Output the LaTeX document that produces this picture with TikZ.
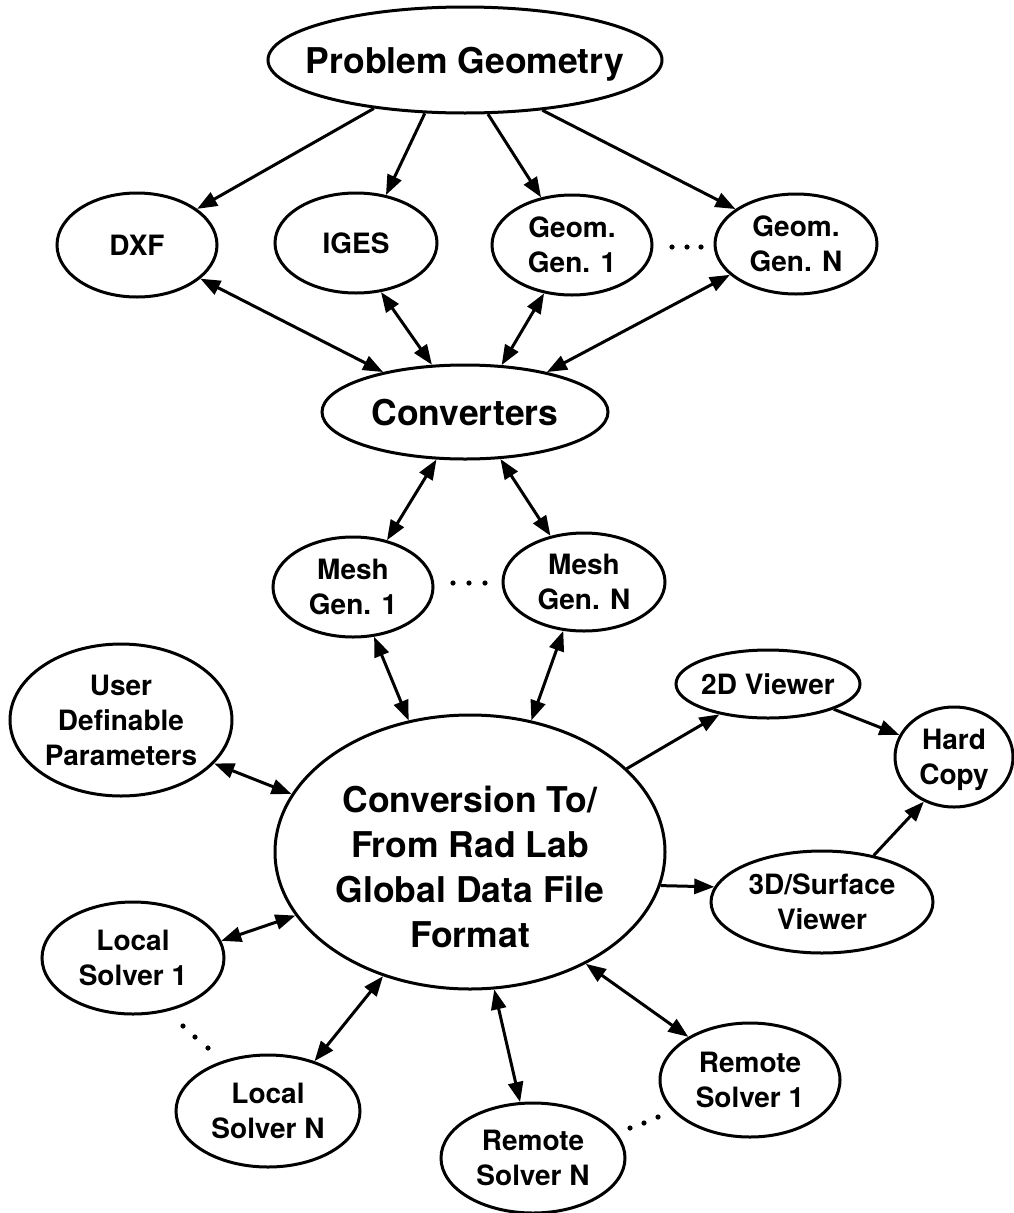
\documentclass[tikz,border=0pt]{standalone}
\usepackage{fontspec}
\setmainfont{TeX Gyre Heros}
\usetikzlibrary{shapes.geometric,arrows.meta}

\begin{document}
\begin{tikzpicture}[x=1pt,y=-1pt,
  oval/.style={ellipse,draw,line width=3pt,inner sep=-60pt,align=center,text depth=0pt,
    font=\bfseries\fontsize{28}{35}\selectfont},
  bigfont/.style={font=\bfseries\fontsize{35.5}{45}\selectfont},
  conn/.style={line width=3pt},
  tip/.tip={Triangle[length=20pt,width=15pt]},
  one/.style={conn,-tip},
  two/.style={conn,tip-tip},
  dot/.style={fill=black}
]
\useasboundingbox (0,0) rectangle (1014,1213);

% top level: geometry sources
\node[oval,bigfont,minimum width=394pt,minimum height=106pt] (pg) at (465,60) {Problem Geometry};
\node[oval,minimum width=160pt,minimum height=104pt] (dxf) at (137,245) {DXF};
\node[oval,minimum width=162pt,minimum height=100pt] (iges) at (356,243) {IGES};
\node[oval,minimum width=160pt,minimum height=100pt] (gg1) at (572,245) {Geom.\\Gen. 1};
\node[oval,minimum width=162pt,minimum height=100pt] (ggn) at (796,244) {Geom.\\Gen. N};
\node[oval,bigfont,minimum width=286pt,minimum height=94pt] (conv) at (465,412) {Converters};

% mesh generators
\node[oval,minimum width=160pt,minimum height=100pt] (mg1) at (353,587) {Mesh\\Gen. 1};
\node[oval,minimum width=162pt,minimum height=98pt] (mgn) at (584,582) {Mesh\\Gen. N};

% central data format
\node[oval,minimum width=390pt,minimum height=274pt] (main) at (470,852) {};
\node[bigfont,align=center,inner sep=0pt] (maintext) at (470,867)
  {Conversion To/\\From Rad Lab\\Global Data File\\Format};

% surrounding tools
\node[oval,minimum width=222pt,minimum height=152pt] (udp) at (121,720) {User\\Definable\\Parameters};
\node[oval,minimum width=184pt,minimum height=68pt] (v2d) at (768,684) {2D Viewer};
\node[oval,minimum width=118pt,minimum height=100pt] (hc) at (954,757) {Hard\\Copy};
\node[oval,minimum width=222pt,minimum height=102pt] (v3d) at (822,902) {3D/Surface\\Viewer};
\node[oval,minimum width=182pt,minimum height=112pt] (ls1) at (133,958) {Local\\Solver 1};
\node[oval,minimum width=184pt,minimum height=112pt] (lsn) at (268,1111) {Local\\Solver N};
\node[oval,minimum width=180pt,minimum height=114pt] (rs1) at (750,1080) {Remote\\Solver 1};
\node[oval,minimum width=184pt,minimum height=110pt] (rsn) at (533,1158) {Remote\\Solver N};

% geometry to formats
\draw[one] (pg.208.5) -- (dxf.31);
\draw[one] (pg.233.6) -- (iges.58.3);
\draw[one] (pg.293.7) -- (gg1.123.2);
\draw[one] (pg.327.6) -- (ggn.150.2);

% formats to converters
\draw[two] (dxf.332.3) -- (conv.154.3);
\draw[two] (iges.297.5) -- (conv.125.5);
\draw[two] (gg1.240.6) -- (conv.52.4);
\draw[two] (ggn.205.4) -- (conv.26.8);

% converters to mesh generators
\draw[two] (conv.239.2) -- (mg1.54);
\draw[two] (conv.307.3) -- (mgn.126.5);

% mesh generators to central format
\draw[two] (mg1.293.3) -- (main.115.9);
\draw[two] (mgn.247.2) -- (main.65.9);

% central format to the rest
\draw[two] (udp.335.1) -- (main.162.6);
\draw[one] (main.28.4) -- (v2d.212.2);
\draw[one] (v2d.339.4) -- (hc.158);
\draw[one] (v3d.42.7) -- (hc.236);
\draw[one] (main.350.7) -- (v3d.172.7);
\draw[two] (main.200.2) -- (ls1.11.7);
\draw[two] (main.235.1) -- (lsn.47.2);
\draw[two] (main.280.3) -- (rsn.103.6);
\draw[two] (main.316.8) -- (rs1.145.9);

% ellipsis dots
\foreach \p in {(672,247),(687,247),(701,247),
                (453,583),(469,583),(485,583),
                (183,1026),(195,1037),(208,1048),
                (630,1128),(644,1123),(658,1117)}
  \fill[dot] \p circle (2.6pt);
\end{tikzpicture}
\end{document}
